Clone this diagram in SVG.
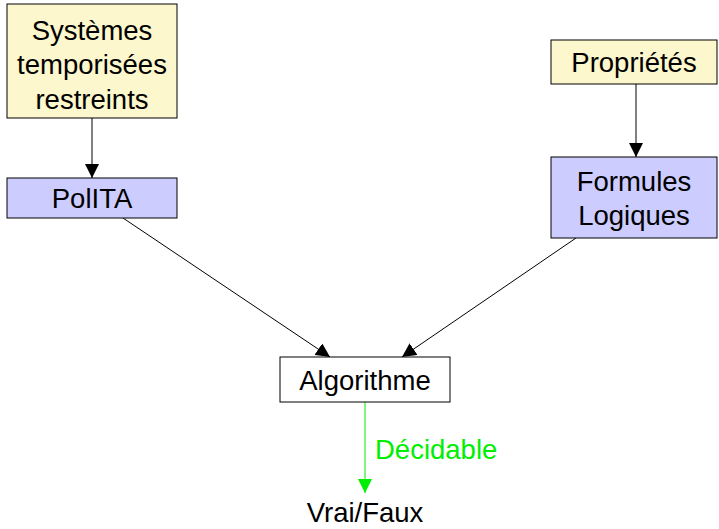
<svg xmlns="http://www.w3.org/2000/svg" width="719" height="529" viewBox="0 0 719 529">
<defs>
<style>
text{font-family:"Liberation Sans",Arial,sans-serif;font-size:27.5px;text-anchor:middle;fill:#000}
.y{fill:#fcf7cc;stroke:#000;stroke-width:1}
.b{fill:#ccccff;stroke:#000;stroke-width:1}
.w{fill:#fff;stroke:#000;stroke-width:1}
.c{stroke:#000;stroke-width:1;fill:none}
.g{stroke:#00ee00;stroke-width:1;fill:none}
</style>
<marker id="ah" viewBox="0 0 14 14" refX="14" refY="7" markerWidth="14" markerHeight="14" markerUnits="userSpaceOnUse" orient="auto"><path d="M0,0L14,7L0,14Z" fill="#000"/></marker>
<marker id="ahg" viewBox="0 0 14 14" refX="14" refY="7" markerWidth="14" markerHeight="14" markerUnits="userSpaceOnUse" orient="auto"><path d="M0,0L14,7L0,14Z" fill="#00ee00"/></marker>
</defs>
<rect width="719" height="529" fill="#fff"/>
<g id="connectors">
<line class="c" x1="92" y1="118" x2="92" y2="178" marker-end="url(#ah)"/>
<line class="c" x1="636" y1="84" x2="636" y2="157" marker-end="url(#ah)"/>
<line class="c" x1="123" y1="218" x2="330" y2="357" marker-end="url(#ah)"/>
<line class="c" x1="576" y1="238" x2="402" y2="357" marker-end="url(#ah)"/>
<line class="g" x1="365" y1="402" x2="365" y2="493" marker-end="url(#ahg)"/>
<text x="375" y="459" style="text-anchor:start;fill:#00ee00">Décidable</text>
</g>
<g id="systemes">
<rect class="y" x="7" y="4" width="170" height="114"/>
<text x="92" y="40">Systèmes</text>
<text x="92" y="74">temporisées</text>
<text x="92" y="109">restreints</text>
</g>
<g id="polita">
<rect class="b" x="7" y="178" width="170" height="40"/>
<text x="92" y="208">PolITA</text>
</g>
<g id="proprietes">
<rect class="y" x="551" y="40" width="166" height="44"/>
<text x="634" y="72">Propriétés</text>
</g>
<g id="formules">
<rect class="b" x="551" y="157" width="166" height="81"/>
<text x="634" y="191">Formules</text>
<text x="634" y="225">Logiques</text>
</g>
<g id="algorithme">
<rect class="w" x="280" y="357" width="170" height="45"/>
<text x="365" y="390">Algorithme</text>
</g>
<g id="vraifaux">
<text x="365" y="522">Vrai/Faux</text>
</g>
</svg>
